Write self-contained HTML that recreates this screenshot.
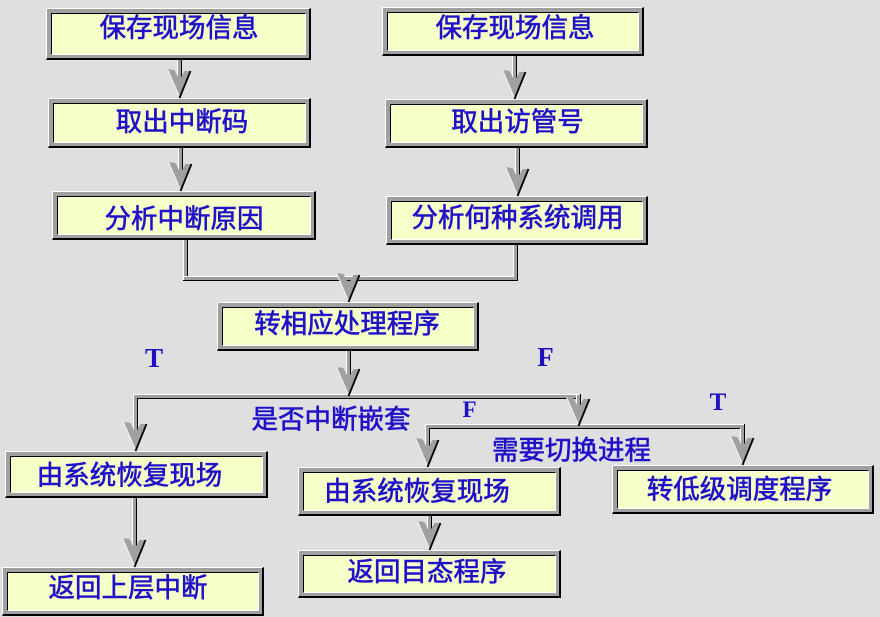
<!DOCTYPE html>
<html><head><meta charset="utf-8"><style>
html,body{margin:0;padding:0;background:#dfdfdf;}
#c{position:relative;width:880px;height:617px;overflow:hidden;background:#dfdfdf;}
.b{position:absolute;box-sizing:border-box;background:#a0a0a0;border-style:solid;border-color:#fff #000 #000 #fff;border-width:1px 2px 2px 1px;padding:4px 3px 3px 4px;}
.b>i{display:block;height:100%;box-sizing:border-box;border-style:solid;border-width:1px;border-color:#000 #fff #fff #000;background:#f5ffc8;}
svg{position:absolute;left:0;top:0;}
.t{font-family:"Liberation Sans","Noto Sans CJK SC",sans-serif;font-size:26.5px;font-weight:normal;fill:#2010c8;stroke:#2010c8;stroke-width:0.6px;text-anchor:middle;}
.s{font-family:"Liberation Serif",serif;font-weight:bold;fill:#2010c0;text-anchor:middle;}
</style></head><body><div id="c">
<div class="b" style="left:46px;top:8px;width:265px;height:52px"><i></i></div>
<div class="b" style="left:48px;top:98px;width:263px;height:50px"><i></i></div>
<div class="b" style="left:52px;top:191px;width:264px;height:49px"><i></i></div>
<div class="b" style="left:382px;top:7px;width:262px;height:49px"><i></i></div>
<div class="b" style="left:385px;top:99px;width:263px;height:49px"><i></i></div>
<div class="b" style="left:386px;top:196px;width:262px;height:49px"><i></i></div>
<div class="b" style="left:217px;top:302px;width:262px;height:49px"><i></i></div>
<div class="b" style="left:5px;top:451px;width:263px;height:47px"><i></i></div>
<div class="b" style="left:2px;top:567px;width:262px;height:49px"><i></i></div>
<div class="b" style="left:298px;top:467px;width:263px;height:49px"><i></i></div>
<div class="b" style="left:298px;top:550px;width:263px;height:48px"><i></i></div>
<div class="b" style="left:612px;top:465px;width:262px;height:49px"><i></i></div>

<svg width="880" height="617" viewBox="0 0 880 617" xmlns="http://www.w3.org/2000/svg">
<defs>
<g id="ah">
<polygon points="-12,-29 -5,-28 0,-18 5,-27 11,-27 0,0" fill="#a0a0a0"/>
<polyline points="-12,-29 0,-1" stroke="#f4f4f4" stroke-width="1" fill="none"/>
<polyline points="11,-27 0,0" stroke="#000" stroke-width="1.8" fill="none"/>
</g>
</defs>
<g>
<rect x="177" y="60" width="1" height="28" fill="#fff"/><rect x="178" y="60" width="3" height="28" fill="#a0a0a0"/><rect x="181" y="60" width="1" height="28" fill="#000"/>
<rect x="178" y="148" width="1" height="32" fill="#fff"/><rect x="179" y="148" width="3" height="32" fill="#a0a0a0"/><rect x="182" y="148" width="1" height="32" fill="#000"/>
<rect x="512" y="56" width="1" height="32" fill="#fff"/><rect x="513" y="56" width="3" height="32" fill="#a0a0a0"/><rect x="516" y="56" width="1" height="32" fill="#000"/>
<rect x="515" y="148" width="1" height="37" fill="#fff"/><rect x="516" y="148" width="3" height="37" fill="#a0a0a0"/><rect x="519" y="148" width="1" height="37" fill="#000"/>
<rect x="183" y="240" width="1" height="41" fill="#fff"/><rect x="184" y="240" width="3" height="40" fill="#a0a0a0"/><rect x="187" y="240" width="1" height="36" fill="#000"/>
<rect x="513" y="245" width="1" height="31" fill="#fff"/><rect x="514" y="245" width="3" height="35" fill="#a0a0a0"/><rect x="517" y="245" width="1" height="36" fill="#000"/>
<rect x="183" y="276" width="331" height="1" fill="#fff"/><rect x="184" y="277" width="333" height="3" fill="#a0a0a0"/><rect x="183" y="280" width="335" height="1" fill="#000"/>
<rect x="346" y="281" width="1" height="10" fill="#fff"/><rect x="347" y="281" width="3" height="10" fill="#a0a0a0"/><rect x="350" y="281" width="1" height="10" fill="#000"/>
<rect x="346" y="351" width="1" height="34" fill="#fff"/><rect x="347" y="351" width="3" height="34" fill="#a0a0a0"/><rect x="350" y="351" width="1" height="34" fill="#000"/>
<rect x="133" y="394" width="448" height="1" fill="#fff"/><rect x="134" y="395" width="447" height="3" fill="#a0a0a0"/><rect x="138" y="398" width="438" height="1" fill="#000"/>
<rect x="133" y="394" width="1" height="46" fill="#fff"/><rect x="134" y="395" width="3" height="45" fill="#a0a0a0"/><rect x="137" y="398" width="1" height="42" fill="#000"/>
<rect x="576" y="394" width="1" height="20" fill="#fff"/><rect x="577" y="395" width="3" height="19" fill="#a0a0a0"/><rect x="580" y="394" width="1" height="20" fill="#000"/>
<rect x="425" y="424" width="320" height="1" fill="#fff"/><rect x="426" y="425" width="318" height="3" fill="#a0a0a0"/><rect x="430" y="428" width="310" height="1" fill="#000"/>
<rect x="425" y="424" width="1" height="31" fill="#fff"/><rect x="426" y="425" width="3" height="30" fill="#a0a0a0"/><rect x="429" y="428" width="1" height="27" fill="#000"/>
<rect x="740" y="428" width="1" height="25" fill="#fff"/><rect x="741" y="425" width="3" height="28" fill="#a0a0a0"/><rect x="744" y="424" width="1" height="29" fill="#000"/>
<rect x="132" y="498" width="1" height="57" fill="#fff"/><rect x="133" y="498" width="3" height="57" fill="#a0a0a0"/><rect x="136" y="498" width="1" height="57" fill="#000"/>
<rect x="427" y="516" width="1" height="22" fill="#fff"/><rect x="428" y="516" width="3" height="22" fill="#a0a0a0"/><rect x="431" y="516" width="1" height="22" fill="#000"/>
</g>
<use href="#ah" x="179.5" y="98"/>
<use href="#ah" x="180.5" y="191"/>
<use href="#ah" x="514.5" y="99"/>
<use href="#ah" x="517.5" y="196"/>
<use href="#ah" x="348.5" y="302"/>
<use href="#ah" x="348.5" y="396"/>
<use href="#ah" x="135.5" y="451"/>
<use href="#ah" x="578.5" y="426"/>
<use href="#ah" x="427.5" y="467"/>
<use href="#ah" x="742.5" y="465"/>
<use href="#ah" x="134.5" y="567"/>
<use href="#ah" x="429.5" y="550"/>

<text class="t" x="179" y="37">保存现场信息</text>
<text class="t" x="182" y="131">取出中断码</text>
<text class="t" x="184" y="228">分析中断原因</text>
<text class="t" x="515" y="37">保存现场信息</text>
<text class="t" x="517.5" y="131">取出访管号</text>
<text class="t" x="517.5" y="227">分析何种系统调用</text>
<text class="t" x="347" y="333">转相应处理程序</text>
<text class="t" x="129.5" y="484.5">由系统恢复现场</text>
<text class="t" x="128" y="597">返回上层中断</text>
<text class="t" x="417" y="500.5">由系统恢复现场</text>
<text class="t" x="427" y="581">返回目态程序</text>
<text class="t" x="739.5" y="498.5">转低级调度程序</text>
<text class="t" x="331" y="428.5">是否中断嵌套</text>
<text class="t" x="571.5" y="459.5">需要切换进程</text>
<text class="s" x="154" y="367" font-size="27">T</text>
<text class="s" x="545.5" y="366" font-size="27">F</text>
<text class="s" x="469.5" y="417" font-size="23">F</text>
<text class="s" x="718" y="410" font-size="25">T</text>
</svg>
</div></body></html>
